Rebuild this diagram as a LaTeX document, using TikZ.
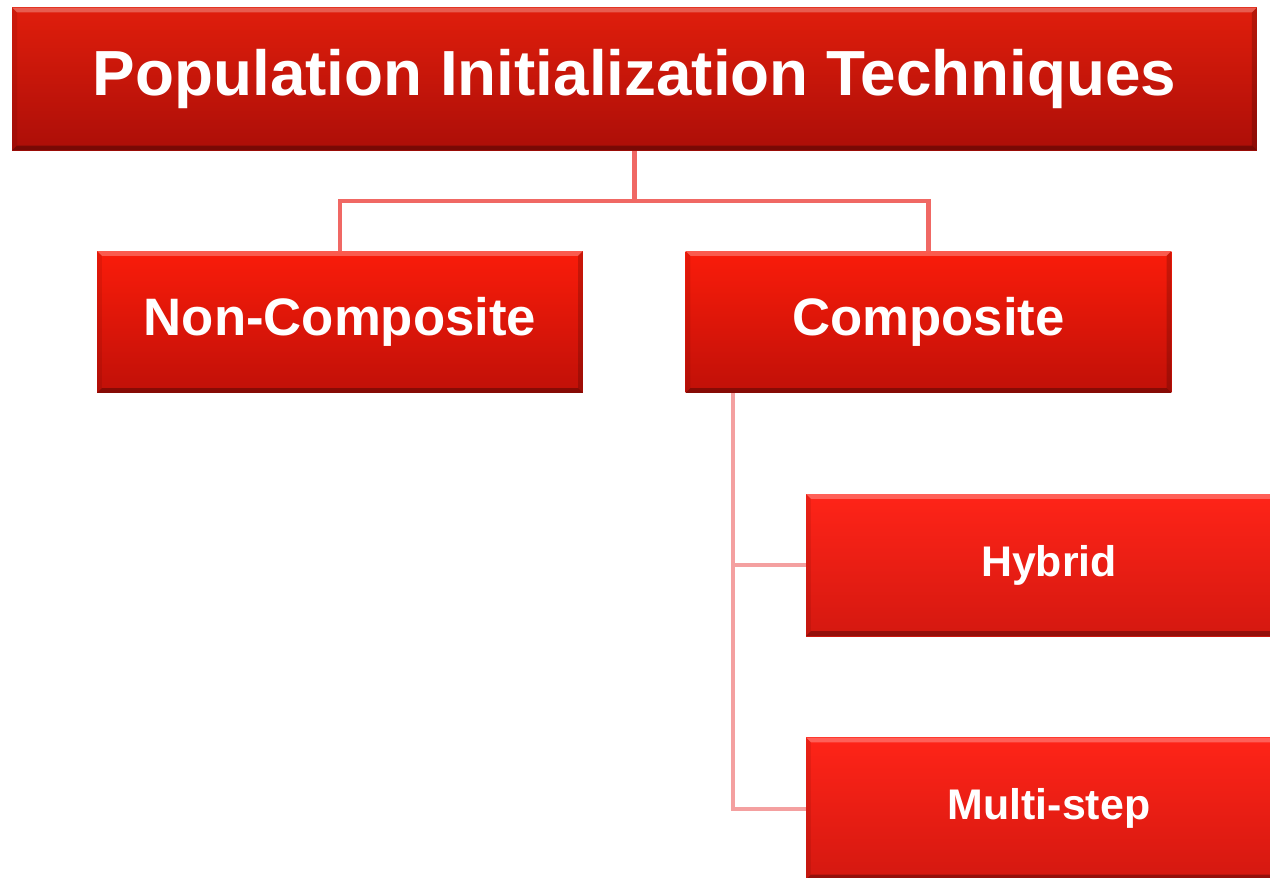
\documentclass[tikz,border=0pt]{standalone}
\usepackage{fontspec}
\setmainfont{Liberation Sans}
\usepackage{tikz}
\usetikzlibrary{calc}
\definecolor{roottop}{RGB}{224,30,12}
\definecolor{rootbot}{RGB}{172,14,8}
\definecolor{classtop}{RGB}{250,28,10}
\definecolor{classbot}{RGB}{192,16,8}
\definecolor{leaftop}{RGB}{255,36,24}
\definecolor{leafbot}{RGB}{212,24,16}
\definecolor{linkred}{RGB}{240,104,100}
\definecolor{spinepink}{RGB}{244,160,160}
\def\bevw{2.8pt}
\tikzset{
  bevelbox/.style={rectangle, inner sep=0pt, text=white,
    path picture={
      \fill[white,opacity=.28] (path picture bounding box.north west) -- (path picture bounding box.north east)
        -- ([shift={(-\bevw,-\bevw)}]path picture bounding box.north east) -- ([shift={(\bevw,-\bevw)}]path picture bounding box.north west) -- cycle;
      \fill[black,opacity=.3] (path picture bounding box.south west) -- (path picture bounding box.south east)
        -- ([shift={(-\bevw,\bevw)}]path picture bounding box.south east) -- ([shift={(\bevw,\bevw)}]path picture bounding box.south west) -- cycle;
      \fill[black,opacity=.18] (path picture bounding box.north east) -- (path picture bounding box.south east)
        -- ([shift={(-\bevw,\bevw)}]path picture bounding box.south east) -- ([shift={(-\bevw,-\bevw)}]path picture bounding box.north east) -- cycle;
      \fill[black,opacity=.08] (path picture bounding box.north west) -- (path picture bounding box.south west)
        -- ([shift={(\bevw,\bevw)}]path picture bounding box.south west) -- ([shift={(\bevw,-\bevw)}]path picture bounding box.north west) -- cycle;
    }},
  rootbox/.style={bevelbox, minimum width=24.9cm, minimum height=2.86cm,
    top color=roottop, bottom color=rootbot, font=\bfseries\fontsize{36.3}{40}\selectfont},
  classbox/.style={bevelbox, minimum width=9.72cm, minimum height=2.84cm,
    top color=classtop, bottom color=classbot, font=\bfseries\fontsize{30}{34}\selectfont},
  leafbox/.style={bevelbox, minimum width=9.72cm, minimum height=2.84cm,
    top color=leaftop, bottom color=leafbot, font=\bfseries\fontsize{24.4}{28}\selectfont},
  linkline/.style={draw=linkred, line width=2.3pt},
  spineline/.style={draw=spinepink, line width=2.3pt}
}
\begin{document}
\begin{tikzpicture}[x=0.02cm, y=-0.02cm]
  \path[use as bounding box, clip] (0,0) rectangle (1270,877);

  % boxes, centres in pixel units
  \node[rootbox]  (root)     at (634.5,79)   {Population Initialization Techniques};
  \node[classbox] (noncomp)  at (340,322)    {Non-Composite};
  \node[classbox] (comp)     at (928.5,322)  {Composite};
  \node[leafbox]  (hybrid)   at (1049,565)   {Hybrid};
  \node[leafbox]  (multi)    at (1049,808.5) {Multi-step};

  % fork under the root
  \draw[linkline] (root.south) -- ++(0,50) coordinate (fork) -| (noncomp.north);
  \draw[linkline] (fork) -| (comp.north);

  % list under Composite
  \coordinate (spine) at ($(comp.south west)+(48,0)$);
  \draw[spineline] (spine) |- (multi.west);
  \draw[spineline] (spine |- hybrid.west) -- (hybrid.west);
\end{tikzpicture}
\end{document}
